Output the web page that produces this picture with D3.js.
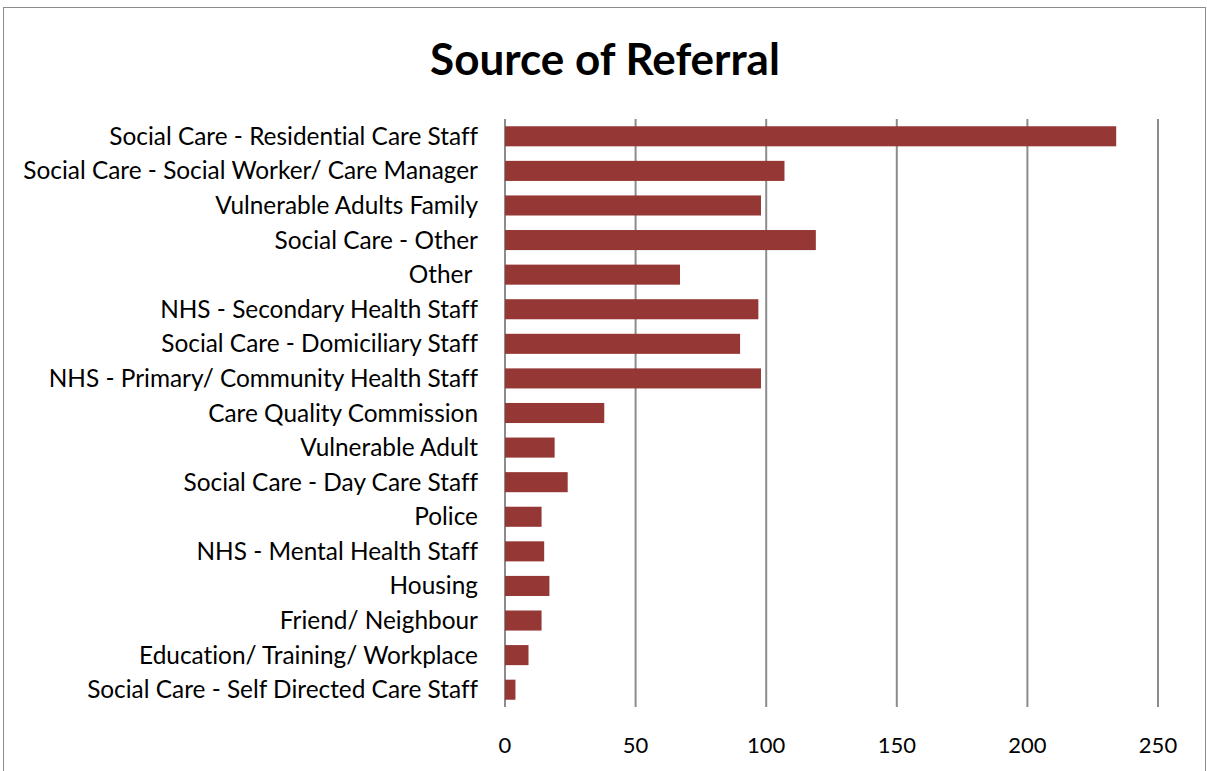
<!DOCTYPE html>
<html>
<head>
<meta charset="utf-8">
<script src="https://cdn.jsdelivr.net/npm/d3@7"></script>
<style>
  body { margin: 0; background: #fff; }
  svg text { font-family: Lato, "Open Sans", sans-serif; font-variant-ligatures: none; }
</style>
</head>
<body>
<div id="chart"></div>
<script>
// Source of Referral ////////////////////////////////////////////////////////

var categories = [
  'Social Care - Residential Care Staff',
  'Social Care - Social Worker/ Care Manager',
  'Vulnerable Adults Family',
  'Social Care - Other',
  'Other ',
  'NHS - Secondary Health Staff',
  'Social Care - Domiciliary Staff',
  'NHS - Primary/ Community Health Staff',
  'Care Quality Commission',
  'Vulnerable Adult',
  'Social Care - Day Care Staff',
  'Police',
  'NHS - Mental Health Staff',
  'Housing',
  'Friend/ Neighbour',
  'Education/ Training/ Workplace',
  'Social Care - Self Directed Care Staff'
];
var referrals = [234, 107, 98, 119, 67, 97, 90, 98, 38, 19, 24, 14, 15, 17, 14, 9, 4];
var xTicks = [0, 50, 100, 150, 200, 250];

///////////////////////////////////////////////////////////////////////////////

var width = 1207;
var height = 771;
var margin = {top: 119, right: 49, bottom: 64, left: 505};

var svg = d3.select('#chart').append('svg')
  .attr('width', width)
  .attr('height', height);

// chart frame
svg.append('rect')
  .attr('x', 3.5)
  .attr('y', 7.5)
  .attr('width', width - 5)
  .attr('height', height)
  .style('fill', 'white')
  .style('stroke', '#8c8c8c');

svg.append('text')
  .attr('x', 605)
  .attr('y', 75)
  .attr('text-anchor', 'middle')
  .style('font-size', '44px')
  .style('font-weight', 'bold')
  .text('Source of Referral');

var x = d3.scaleLinear()
  .domain([0, 250])
  .range([margin.left, width - margin.right]);

var y = d3.scaleBand()
  .domain(categories)
  .range([margin.top, height - margin.bottom])
  .paddingInner(0.42)
  .paddingOuter(0.21);

// gridlines
svg.append('g').selectAll('line')
  .data(xTicks)
  .enter().append('line')
  .attr('x1', function(d){ return x(d); })
  .attr('x2', function(d){ return x(d); })
  .attr('y1', margin.top)
  .attr('y2', height - margin.bottom)
  .style('stroke', '#8c8c8c')
  .style('stroke-width', 2);

svg.append('g').selectAll('rect')
  .data(referrals)
  .enter().append('rect')
  .attr('x', x(0))
  .attr('y', function(d, i){ return y(categories[i]); })
  .attr('width', function(d){ return x(d) - x(0); })
  .attr('height', y.bandwidth())
  .style('fill', '#953735');

// category labels
svg.append('g').selectAll('text')
  .data(categories)
  .enter().append('text')
  .attr('x', 478)
  .attr('y', function(d){ return y(d) + y.bandwidth() / 2; })
  .attr('dy', '0.35em')
  .attr('text-anchor', 'end')
  .style('font-size', '24.4px')
  .style('white-space', 'pre')
  .text(function(d){ return d; });

// tick labels
svg.append('g').selectAll('text')
  .data(xTicks)
  .enter().append('text')
  .attr('x', function(d){ return x(d); })
  .attr('y', 753)
  .attr('text-anchor', 'middle')
  .style('font-size', '22px')
  .text(function(d){ return d; });
</script>
</body>
</html>
